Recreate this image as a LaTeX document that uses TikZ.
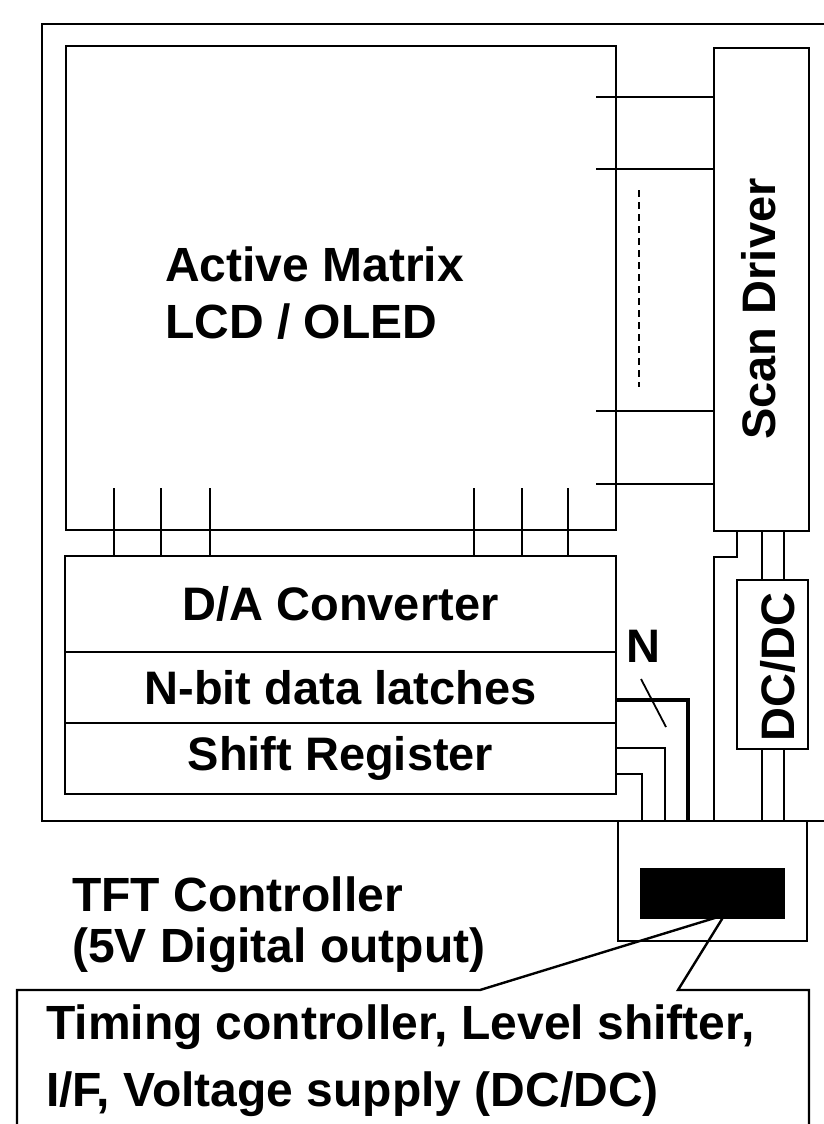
\documentclass[tikz,border=0pt]{standalone}
\usepackage{fontspec}
\setsansfont{Liberation Sans}
\usetikzlibrary{positioning, calc}

\begin{document}
\begin{tikzpicture}[
        x=1pt, y=-1pt,
        boxNode/.style={
            draw,
            line width=2.8pt,
            inner sep=0pt,
            outer sep=0pt
        },
        labelText/.style={
            font=\sffamily\bfseries\fontsize{47}{56}\selectfont,
            inner sep=0pt,
            align=left
        },
        wireLine/.style={
            line width=2.8pt
        },
        dataLine/.style={
            line width=2.2pt
        }
    ]
    \useasboundingbox (0,0) rectangle (824,1124);
    \clip (0,0) rectangle (824,1124);

    % glass panel outline
    \draw[line width=2.4pt] (830,24) -- (42,24) -- (42,821) -- (830,821);

    % display and drivers
    \node[boxNode, minimum width=550pt, minimum height=484pt] (matrix) at (341,288) {};
    \node[labelText, anchor=west, font=\sffamily\bfseries\fontsize{48}{57}\selectfont] (matrixText) at (165,293) {Active Matrix\\LCD / OLED};
    \node[boxNode, minimum width=95pt, minimum height=483pt] (scan) at (761.5,289.5) {};
    \node[labelText, rotate=90] (scanText) at (759,309) {Scan Driver};

    \node[boxNode, labelText, align=center, minimum width=551pt, minimum height=96pt] (dac) at (340.5,604) {D/A Converter};
    \node[boxNode, labelText, align=center, minimum width=551pt, minimum height=71pt, below=0pt of dac] (latch) {N-bit data latches};
    \node[boxNode, labelText, align=center, minimum width=551pt, minimum height=71pt, below=0pt of latch] (shreg) {Shift Register};

    \node[boxNode, minimum width=71pt, minimum height=169pt] (dcdc) at (772.5,664.5) {};
    \node[labelText, rotate=90] (dcdcText) at (778,667) {DC/DC};

    \node[boxNode, line width=2.4pt, minimum width=189pt, minimum height=120pt] (tft) at (712.5,881) {};
    \node[boxNode, fill=black, minimum width=143pt, minimum height=49pt] (chip) at (712.5,893.5) {};

    % scan lines
    \foreach \y in {97,169,411,484}
        \draw[wireLine] (scan.west |- 0,\y) -- (596,\y);
    \draw[line width=2.2pt, dash pattern=on 7pt off 5pt] (639,190) -- (639,387);

    % data lines
    \foreach \x in {114,161,210,474,522,568}
        \draw[dataLine] (\x,488) -- (dac.north -| \x,0);

    % N-bit bus to controller
    \draw[line width=3.6pt] (latch.east |- 0,700) -| (tft.north -| 688,0);
    \draw[wireLine] (shreg.east |- 0,748) -| (tft.north -| 665,0);
    \draw[wireLine] (shreg.east |- 0,774) -| (tft.north -| 642,0);
    \draw[line width=1.8pt] (641,679) -- (666,727);
    \node[labelText] (nText) at (643,646) {N};

    % supply lines
    \draw[wireLine] (scan.south -| 737,0) |- (714,557) -- (tft.north -| 714,0);
    \foreach \x in {762,784} {
        \draw[wireLine] (scan.south -| \x,0) -- (dcdc.north -| \x,0);
        \draw[wireLine] (dcdc.south -| \x,0) -- (tft.north -| \x,0);
    }

    % controller text and callout
    \node[labelText, anchor=west, font=\sffamily\bfseries\fontsize{48}{57}\selectfont] (tftText) at (72,925) {TFT Controller\\[-6pt](5V Digital output)};
    \coordinate (tip) at ($(chip.south)+(12,-3)$);
    \draw[line width=2.4pt] (17,1130) -- (17,990) -- (480,990) -- (tip) -- (678,990) -- (809,990) -- (809,1130);
    \node[labelText, anchor=west, font=\sffamily\bfseries\fontsize{48}{57}\selectfont] (calloutText) at (46,1061) {Timing controller, Level shifter,\\[10pt]I/F, Voltage supply (DC/DC)};
\end{tikzpicture}
\end{document}
